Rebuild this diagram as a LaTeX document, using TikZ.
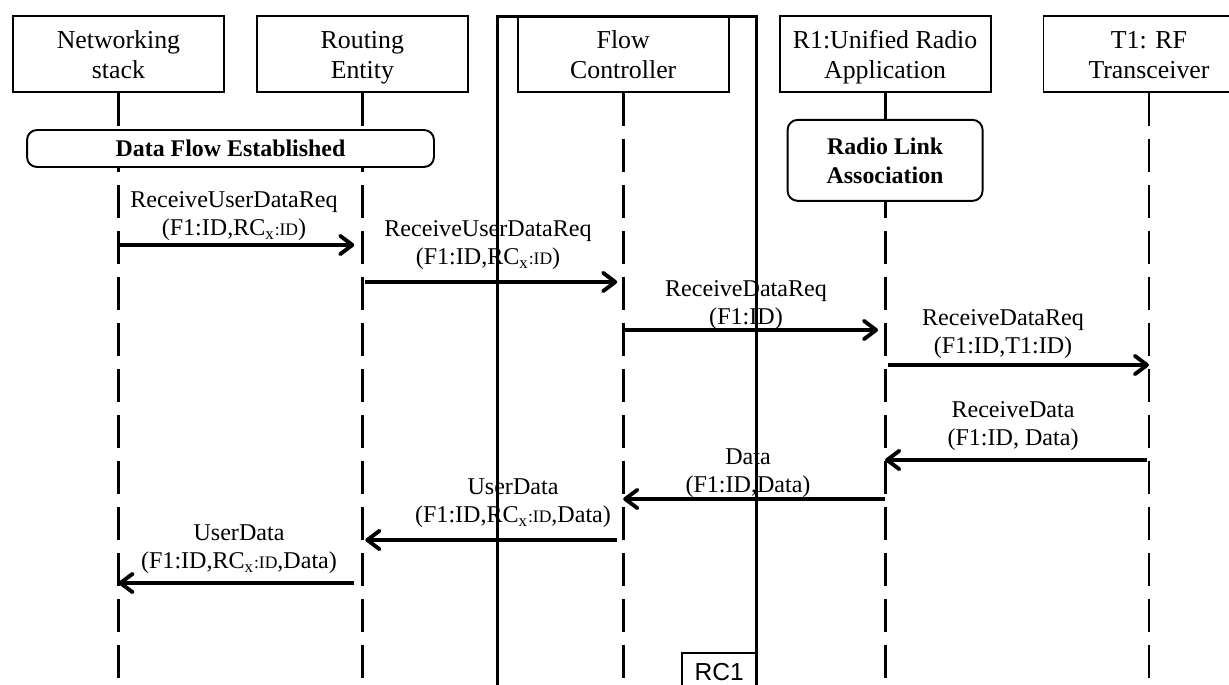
\documentclass[tikz,border=0pt]{standalone}
\usepackage{fontspec}
\setmainfont{Liberation Serif}
\newfontfamily\rcfont{Liberation Sans}
\usetikzlibrary{positioning,arrows.meta}

\begin{document}
\begin{tikzpicture}[x=0.02cm, y=-0.02cm,
      head/.style={rectangle, draw, line width=1.1pt, minimum width=4.22cm,
                   minimum height=1.52cm, inner ysep=0pt, align=center,
                   font=\fontsize{14.7}{17}\selectfont},
      act/.style={rectangle, draw, rounded corners=0.2cm, line width=1.1pt,
                  fill=white, align=center,
                  font=\fontsize{13.6}{16.5}\selectfont\bfseries},
      life/.style={line width=1.7pt, dash pattern=on 0.66cm off 0.26cm},
      msg/.style={line width=2.2pt,
                  -{Straight Barb[length=7pt,width=10.5pt,round]}},
      lbl/.style={align=center, inner sep=0pt,
                  font=\fontsize{13.7}{16.2}\selectfont}]
    \useasboundingbox (0,0) rectangle (1229,685);
    \node[head, anchor=north west] (ns) at (12,15)
      {\rule{0pt}{18.5pt}Networking\\stack\rule[-7.5pt]{0pt}{7.5pt}};
    \node[head, right=0.62cm of ns] (re)
      {\rule{0pt}{18.5pt}Routing\\Entity\rule[-7.5pt]{0pt}{7.5pt}};
    \node[head, right=0.96cm of re] (fc)
      {\rule{0pt}{18.5pt}Flow\\Controller\rule[-7.5pt]{0pt}{7.5pt}};
    \node[head, right=0.98cm of fc] (ra)
      {\rule{0pt}{18.5pt}R1:Unified Radio\\Application\rule[-7.5pt]{0pt}{7.5pt}};
    \node[head, right=1.02cm of ra] (rf)
      {\rule{0pt}{18.5pt}T1: RF\\Transceiver\rule[-7.5pt]{0pt}{7.5pt}};
    \foreach \n in {ns,re,fc,ra,rf}
      \draw[life] (\n.south) -- (\n.south |- 0,700);
    \node[act, minimum width=8.14cm, minimum height=0.74cm] (dfe)
      at (230.5,148.5) {Data Flow Established};
    \node[act, below=0.52cm of ra, minimum width=3.9cm,
          minimum height=1.62cm] (rla) {Radio Link\\Association};
    \foreach \i/\y in {1/245,2/282,3/330,4/365,5/460,6/499,7/540,8/583}
      \coordinate (m\i) at (0,\y);
    \draw[msg, shorten >=0.16cm] (ns |- m1) -- (re |- m1);
    \draw[msg, shorten <=0.06cm, shorten >=0.12cm] (re |- m2) -- (fc |- m2);
    \draw[msg, shorten >=0.14cm] (fc |- m3) -- (ra |- m3);
    \draw[msg, shorten <=0.06cm] (ra |- m4) -- (rf |- m4);
    \draw[msg, shorten <=0.04cm] (rf |- m5) -- (ra |- m5);
    \draw[msg] (ra |- m6) -- (fc |- m6);
    \draw[msg, shorten <=0.12cm, shorten >=0.06cm] (fc |- m7) -- (re |- m7);
    \draw[msg, shorten <=0.16cm] (re |- m8) -- (ns |- m8);
    \node[lbl] (t1) at (234,216)
      {ReceiveUserDataReq\\(F1:ID,RC\textsubscript{x}{\fontsize{10}{12}\selectfont:ID})};
    \node[lbl] (t2) at (488,245)
      {ReceiveUserDataReq\\(F1:ID,RC\textsubscript{x}{\fontsize{10}{12}\selectfont:ID})};
    \node[lbl] (t3) at (746,305) {ReceiveDataReq\\(F1:ID)};
    \node[lbl] (t4) at (1003,334) {ReceiveDataReq\\(F1:ID,T1:ID)};
    \node[lbl] (t5) at (1013,426) {ReceiveData\\(F1:ID, Data)};
    \node[lbl] (t6) at (748,473) {Data\\(F1:ID,Data)};
    \node[lbl] (t7) at (513,503)
      {UserData\\(F1:ID,RC\textsubscript{x}{\fontsize{10}{12}\selectfont:ID},Data)};
    \node[lbl] (t8) at (239,549)
      {UserData\\(F1:ID,RC\textsubscript{x}{\fontsize{10}{12}\selectfont:ID},Data)};
    \node[draw, line width=1.6pt, inner sep=0pt, anchor=north west,
          minimum width=5.18cm, minimum height=13.9cm] (rc) at (496,15) {};
    \node[draw, line width=1.3pt, anchor=north east, minimum width=1.5cm,
          inner ysep=0.2cm, font=\rcfont\fontsize{14}{16}\selectfont]
      (rcl) at (rc.north east |- 0,652) {RC1};
  \end{tikzpicture}
\end{document}
